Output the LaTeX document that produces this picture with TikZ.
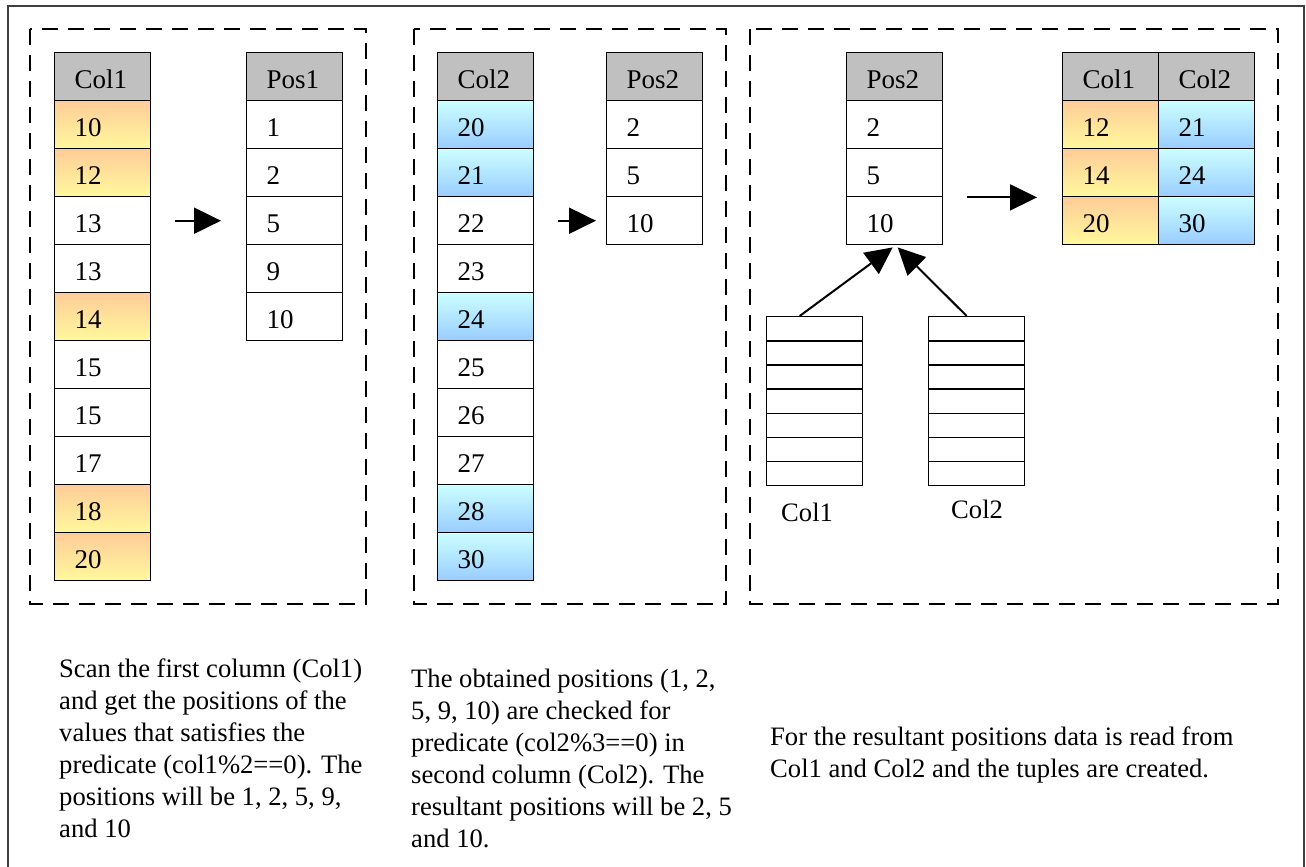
\documentclass[tikz,border=0pt]{standalone}
\usepackage{fontspec}
\setmainfont{Liberation Serif}
\usetikzlibrary{arrows.meta}

\definecolor{hdrgray}{HTML}{C0C0C0}
\definecolor{peach}{HTML}{FFCC99}
\definecolor{lemon}{HTML}{FFF99C}
\definecolor{ice}{HTML}{CCFFFF}
\definecolor{sky}{HTML}{99CCFF}

% strut that fixes every text line at 32pt
\newcommand{\ls}{\vrule height 20pt depth 12pt width 0pt}

\tikzset{
  outerframe/.style={line width=1.6pt, draw=black!75},
  panel/.style={line width=2pt, dash pattern=on 16pt off 10pt},
  cell/.style={draw=black, line width=1.4pt, rectangle, anchor=north west,
    minimum width=96pt, minimum height=48pt, text width=56pt,
    inner xsep=20pt, inner ysep=0pt, text height=23pt, text depth=0pt,
    align=left, font=\fontsize{27}{32}\selectfont},
  hdrcell/.style={cell, fill=hdrgray},
  wcell/.style={cell, fill=white},
  ocell/.style={cell, top color=peach, bottom color=lemon},
  bcell/.style={cell, top color=ice, bottom color=sky},
  slot/.style={draw=black, line width=1.4pt, rectangle, anchor=north west,
    minimum width=96pt, minimum height=24.14pt, inner sep=0pt},
  arr/.style={line width=2pt, -{Triangle[length=27pt,width=26pt]}},
  para/.style={anchor=north west, inner sep=0pt, align=left,
    font=\fontsize{26.6}{32}\selectfont},
  caption/.style={anchor=base west, inner sep=0pt,
    font=\fontsize{26.6}{32}\selectfont},
}

\begin{document}
\begin{tikzpicture}[x=1pt, y=-1pt]
\useasboundingbox (0,0) rectangle (1306,867);

% outer frame (open at the bottom edge)
\draw[outerframe] (8,867) -- (8,6) -- (1304,6) -- (1304,867);

% dashed panels
\draw[panel] (30,29) rectangle (366,604);
\draw[panel] (414,29) rectangle (726,604);
\draw[panel] (750,29) rectangle (1278,604);

% ---- panel 1: Col1 and Pos1
\node[hdrcell] (c1h) at (54,52) {Col1};
\foreach [count=\i] \v/\s in {10/ocell,12/ocell,13/wcell,13/wcell,14/ocell,
    15/wcell,15/wcell,17/wcell,18/ocell,20/ocell}
  \node[\s] (c1-\i) at (54,{52+48*\i}) {\v};

\node[hdrcell] (p1h) at (246,52) {Pos1};
\foreach [count=\i] \v in {1,2,5,9,10}
  \node[wcell] (p1-\i) at (246,{52+48*\i}) {\v};

\draw[arr] ([xshift=24pt]c1-3.east) -- ([xshift=-25pt]p1-3.west);

% ---- panel 2: Col2 and Pos2
\node[hdrcell] (c2h) at (437,52) {Col2};
\foreach [count=\i] \v/\s in {20/bcell,21/bcell,22/wcell,23/wcell,24/bcell,
    25/wcell,26/wcell,27/wcell,28/bcell,30/bcell}
  \node[\s] (c2-\i) at (437,{52+48*\i}) {\v};

\node[hdrcell] (p2h) at (606,52) {Pos2};
\foreach [count=\i] \v in {2,5,10}
  \node[wcell] (p2-\i) at (606,{52+48*\i}) {\v};

\draw[arr] ([xshift=24pt]c2-3.east) -- ([xshift=-10pt]p2-3.west);

% ---- panel 3: tuple reconstruction
\node[hdrcell] (p3h) at (846,52) {Pos2};
\foreach [count=\i] \v in {2,5,10}
  \node[wcell] (p3-\i) at (846,{52+48*\i}) {\v};

\node[hdrcell] (rah) at (1062,52) {Col1};
\node[hdrcell] (rbh) at (1158,52) {Col2};
\foreach [count=\i] \a/\b in {12/21,14/24,20/30} {
  \node[ocell] (ra-\i) at (1062,{52+48*\i}) {\a};
  \node[bcell] (rb-\i) at (1158,{52+48*\i}) {\b};
}

\draw[arr] ([xshift=24pt]p3-2.south east) -- ([xshift=-25pt]ra-2.south west);

% column stores
\foreach \i in {1,...,7} {
  \node[slot] (s1-\i) at (766,{316+24.14*(\i-1)}) {};
  \node[slot] (s2-\i) at (928,{316+24.14*(\i-1)}) {};
}
\node[caption] (s1lab) at (781,521) {Col1};
\node[caption] (s2lab) at (951,518) {Col2};

\draw[arr] ([xshift=-15pt]s1-1.north) -- ([xshift=-2pt,yshift=-2pt]p3-3.south);
\draw[arr] ([xshift=-10pt]s2-1.north) -- ([xshift=3pt,yshift=-2pt]p3-3.south);

% ---- descriptions
\node[para] (d1) at (59,657) {\ls Scan the first column (Col1)\\
  \ls and get the positions of the\\
  \ls values that satisfies the\\
  \ls predicate (col1\%2==0). The\\
  \ls positions will be 1, 2, 5, 9,\\
  \ls and 10};
\node[para] (d2) at (411,667) {\ls The obtained positions (1, 2,\\
  \ls 5, 9, 10) are checked for\\
  \ls predicate (col2\%3==0) in\\
  \ls second column (Col2). The\\
  \ls resultant positions will be 2, 5\\
  \ls and 10.};
\node[para] (d3) at (770,725) {\ls For the resultant positions data is read from\\
  \ls Col1 and Col2 and the tuples are created.};
\end{tikzpicture}
\end{document}
